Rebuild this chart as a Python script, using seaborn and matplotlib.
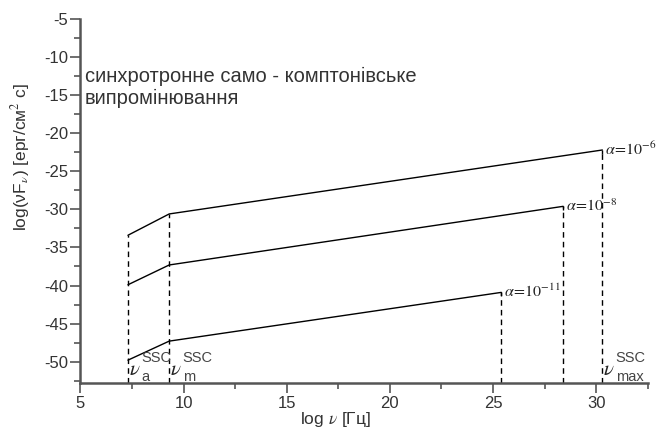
import numpy as np
import pandas as pd
import matplotlib
matplotlib.use("Agg")
import matplotlib.pyplot as plt
import seaborn as sns
from matplotlib.ticker import MultipleLocator

# три криві SSC для різних alpha: (log nu, log nuF_nu)
log_nu_a = 7.3
log_nu_m = 9.3
alpha_labels = [r"$\alpha\!=\!10^{-6}$", r"$\alpha\!=\!10^{-8}$", r"$\alpha\!=\!10^{-11}$"]
log_nu_max = [30.3, 28.4, 25.4]
flux_a = [-33.4, -39.9, -49.8]
flux_m = [-30.6, -37.3, -47.3]
flux_max = [-22.2, -29.6, -40.9]

rows = []
for i, lab in enumerate(alpha_labels):
    for x, y in zip([log_nu_a, log_nu_m, log_nu_max[i]], [flux_a[i], flux_m[i], flux_max[i]]):
        rows.append({"alpha": lab, "x": x, "y": y})
df = pd.DataFrame(rows)

sns.set_theme(style="ticks")
plt.rcParams["font.family"] = ["Liberation Sans", "DejaVu Sans"]
plt.rcParams["mathtext.fontset"] = "stix"

fig = plt.figure(figsize=(6.63, 4.34), dpi=100)
ax = fig.add_axes([0.1214, 0.1175, 0.8556, 0.8387])

ymin, ymax = -52.8, -5
sns.lineplot(data=df, x="x", y="y", units="alpha", estimator=None, sort=False,
             color="black", lw=1.0, ax=ax, legend=False)

# вертикальні пунктирні лінії
dash = dict(color="black", lw=1.0, linestyle=(0, (4, 3)))
ax.vlines(log_nu_a, ymin, max(flux_a), **dash)
ax.vlines(log_nu_m, ymin, max(flux_m), **dash)
for xm, ym in zip(log_nu_max, flux_max):
    ax.vlines(xm, ymin, ym, **dash)
    ax.vlines(xm, ym - 0.5, ym, color="black", lw=1.0)

# підписи alpha
for lab, xm, ym in zip(alpha_labels, log_nu_max, flux_max):
    ax.text(xm + 0.15, ym + 0.1, lab, fontsize=11.5, color="#222222", ha="left", va="center")

# підписи частот
def nu_label(x, sub):
    ax.text(x + 0.05, -51.0, r"$\nu$", fontsize=15, color="#222222", ha="left", va="center")
    ax.text(x + 0.65, -49.5, "SSC", fontsize=10.5, color="#444444", ha="left", va="center")
    ax.text(x + 0.65, -52.0, sub, fontsize=10.5, color="#444444", ha="left", va="center")

nu_label(log_nu_a, "a")
nu_label(log_nu_m, "m")
nu_label(log_nu_max[0], "max")

ax.text(5.2, -14.0, "синхротронне само - комптонівське\nвипромінювання",
        fontsize=14.5, color="#333333", ha="left", va="center", linespacing=1.2)

ax.set_xlim(5, 32.5)
ax.set_ylim(ymin, ymax)
ax.xaxis.set_major_locator(MultipleLocator(5))
ax.xaxis.set_minor_locator(MultipleLocator(2.5))
ax.yaxis.set_major_locator(MultipleLocator(5))
ax.yaxis.set_minor_locator(MultipleLocator(2.5))
ax.tick_params(which="major", length=7, width=1.2, colors="#555555", labelcolor="#333333",
               labelsize=12, pad=2)
ax.tick_params(which="minor", length=4, width=1.2, colors="#555555")
ax.set_yticks(np.arange(-50, -4, 5))
ax.set_yticklabels([str(v) for v in range(-50, -4, 5)])

for side in ["top", "right"]:
    ax.spines[side].set_visible(False)
for side in ["left", "bottom"]:
    ax.spines[side].set_color("#555555")
    ax.spines[side].set_linewidth(1.8)

ax.set_xlabel(r"log $\nu$ [Гц]", fontsize=12.5, color="#333333")
ax.set_ylabel(r"log(νF$_{\nu}$) [ерг/см$^2$ с]", fontsize=12.5, color="#333333")
ax.xaxis.set_label_coords(0.45, -0.074)
ax.yaxis.set_label_coords(-0.085, 0.62)

fig.savefig("out.png", dpi=100)
